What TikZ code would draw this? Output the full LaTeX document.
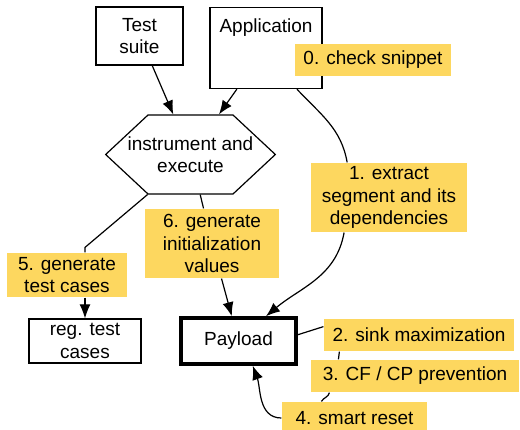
\documentclass[tikz,border=0pt]{standalone}
\usepackage{fontspec}
\setmainfont{Liberation Sans}
\usetikzlibrary{arrows.meta,shapes.symbols}
\definecolor{notefill}{HTML}{FDD75F}

\begin{document}
\begin{tikzpicture}[x=1pt, y=-1pt, line width=1.2pt,
  font=\fontsize{19}{22.5}\selectfont,
  box/.style={rectangle, draw, fill=white, align=center, inner sep=0pt},
  note/.style={rectangle, fill=notefill, align=center, inner sep=0pt},
  hexa/.style={signal, signal to=east and west, signal pointer angle=86,
    draw, fill=white, align=center, inner sep=0pt},
  line/.style={draw, -{Latex[length=14pt,width=11pt]}},
  ]
  \useasboundingbox (0,0) rectangle (520,430);

  \node (suite) [box, minimum width=87pt, minimum height=58pt] at (139.5,36) {Test\\suite};
  \node (app) [box, anchor=north, minimum width=112pt, inner ysep=4pt,
    text height=21pt, text depth=52pt] at (266,7) {Application};
  \node (check) [note, minimum width=156pt, minimum height=32pt] at (373,60) {0. check snippet};
  \node (hex) [hexa, minimum height=79pt] at (190.5,154.5)
    {\makebox[85pt]{instrument and}\\\makebox[85pt]{execute}};
  \node (extract) [note, minimum width=156pt, minimum height=69pt] at (389,197.5) {1. extract\\segment and its\\dependencies};
  \node (initval) [note, minimum width=134pt, minimum height=69pt] at (212,243.5) {6. generate\\initialization\\values};
  \node (gentest) [note, minimum width=120pt, minimum height=44pt] at (67,275) {5. generate\\test cases};
  \node (regtest) [box, minimum width=112pt, minimum height=44pt] at (85,341) {reg. test\\cases};
  \node (payload) [box, line width=3.5pt, minimum width=115pt, minimum height=46pt] at (238.5,341) {Payload};
  \node (sink) [note, minimum width=190pt, minimum height=32pt] at (419,335) {2. sink maximization};
  \node (cfcp) [note, minimum width=208pt, minimum height=32pt] at (415,376) {3. CF / CP prevention};
  \node (reset) [note, minimum width=145pt, minimum height=32pt] at (354.5,418) {4. smart reset};

  % special edges:
  \path[line] (suite) -- (hex);
  \path[line] (app) -- (hex);
  \draw (app.-53) to[out=-47, in=100] (extract.140);
  \path[line] (extract.-142) to[out=-100, in=40] (payload.42);
  \draw (hex) -- (initval);
  \path[line] (initval) -- (payload);
  \draw (hex.-137) -- ([yshift=5pt]gentest.north -| regtest.north) -- (gentest.north -| regtest.north);
  \path[line] (gentest.south -| regtest.north) -- (regtest);
  % loop round the payload
  \draw (payload.6) -- (sink.175);
  \draw ([xshift=16pt]sink.south west) -- ([xshift=28pt]cfcp.north west);
  \draw ([xshift=19pt]cfcp.south west) to[out=-100, in=60] ([xshift=40pt]reset.north west);
  \path[line] (reset.west) to[out=180, in=-70] (payload.-60);
\end{tikzpicture}
\end{document}
